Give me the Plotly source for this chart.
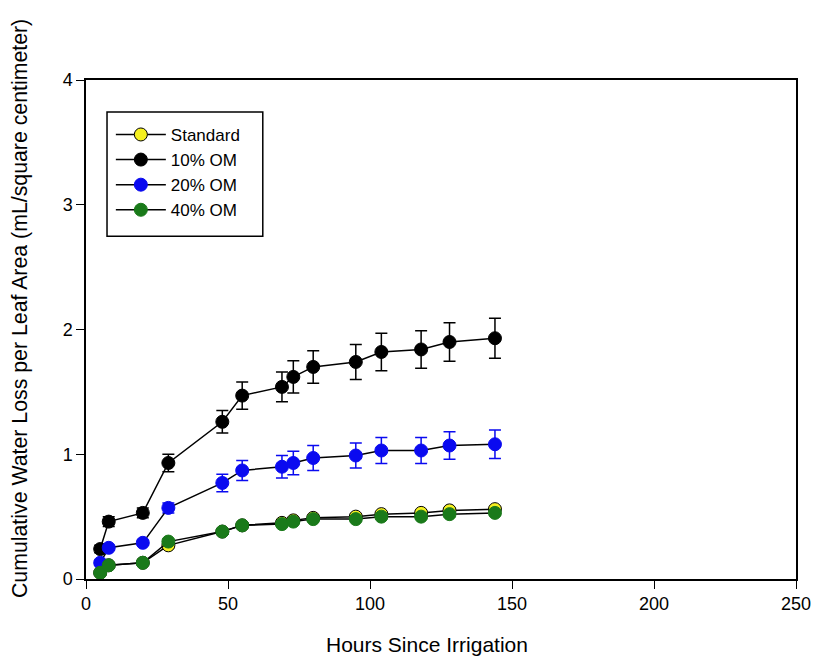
import plotly.graph_objects as go

hours = [5, 8, 20, 29, 48, 55, 69, 73, 80, 95, 104, 118, 128, 144]

standard = [0.05, 0.11, 0.13, 0.27, 0.38, 0.43, 0.45, 0.47, 0.49, 0.50, 0.52, 0.53, 0.55, 0.56]
standard_err = [0.01, 0.01, 0.01, 0.02, 0.02, 0.02, 0.02, 0.02, 0.02, 0.02, 0.02, 0.02, 0.02, 0.02]

om10 = [0.24, 0.46, 0.53, 0.93, 1.26, 1.47, 1.54, 1.62, 1.70, 1.74, 1.82, 1.84, 1.90, 1.93]
om10_err = [0.03, 0.04, 0.04, 0.07, 0.09, 0.11, 0.12, 0.13, 0.13, 0.14, 0.15, 0.15, 0.155, 0.16]

om20 = [0.13, 0.25, 0.29, 0.57, 0.77, 0.87, 0.90, 0.93, 0.97, 0.99, 1.03, 1.03, 1.07, 1.08]
om20_err = [0.02, 0.02, 0.02, 0.04, 0.07, 0.08, 0.09, 0.095, 0.10, 0.10, 0.105, 0.105, 0.11, 0.115]

om40 = [0.05, 0.11, 0.13, 0.30, 0.38, 0.43, 0.44, 0.46, 0.48, 0.48, 0.50, 0.50, 0.52, 0.53]
om40_err = [0.01, 0.01, 0.01, 0.02, 0.02, 0.02, 0.02, 0.02, 0.02, 0.02, 0.02, 0.02, 0.02, 0.02]

x_ticks = [0, 50, 100, 150, 200, 250]
y_ticks = [0, 1, 2, 3, 4]

series = [
    ("Standard", standard, standard_err, "#f5f020", "black"),
    ("10% OM", om10, om10_err, "black", "black"),
    ("20% OM", om20, om20_err, "#0a0af0", "#0a0af0"),
    ("40% OM", om40, om40_err, "#1a7a1a", "#1a7a1a"),
]

fig = go.Figure()
for name, vals, err, color, edge in series:
    fig.add_trace(go.Scatter(
        x=hours, y=vals, name=name, mode="lines+markers",
        line=dict(color="black", width=1.5),
        marker=dict(size=13, color=color, line=dict(color=edge, width=1)),
        error_y=dict(type="data", array=err, visible=True, color=edge,
                     thickness=1.5, width=6),
    ))

# page body adds ~8px offset, margins compensate for it
font = "Arial, Liberation Sans, sans-serif"
fig.update_layout(
    width=830, height=663,
    margin=dict(l=78, r=42, t=72, b=92, autoexpand=False),
    paper_bgcolor="white", plot_bgcolor="white",
    font=dict(family=font, size=18, color="black"),
    showlegend=True,
    legend=dict(x=0.035, y=0.926, xanchor="left", yanchor="top",
                borderwidth=0, bgcolor="rgba(0,0,0,0)",
                font=dict(size=17), tracegroupgap=0, itemwidth=50),
)
# legend frame
fig.add_shape(type="rect", xref="paper", yref="paper",
              x0=0.0296, x1=0.249, y0=0.687, y1=0.936,
              line=dict(color="black", width=1.5), fillcolor="rgba(0,0,0,0)")
fig.update_xaxes(
    range=[0, 250], tickvals=x_ticks, automargin=False,
    showline=True, linecolor="black", linewidth=1.5, mirror=True,
    ticks="outside", ticklen=8, tickcolor="black", showgrid=False, zeroline=False,
)
fig.update_yaxes(
    range=[0, 4], tickvals=y_ticks, automargin=False,
    showline=True, linecolor="black", linewidth=1.5, mirror=True,
    ticks="outside", ticklen=8, tickcolor="black", showgrid=False, zeroline=False,
)
fig.add_annotation(text="Hours Since Irrigation", xref="paper", yref="paper",
                   x=0.48, y=-0.132, xanchor="center", yanchor="middle",
                   showarrow=False, font=dict(size=21))
fig.add_annotation(text="Cumulative Water Loss per Leaf Area (mL/square centimeter)",
                   xref="paper", yref="paper", x=-0.093, y=0.543,
                   xanchor="center", yanchor="middle", textangle=-90,
                   showarrow=False, font=dict(size=21.3))

fig.write_html("out.html")
